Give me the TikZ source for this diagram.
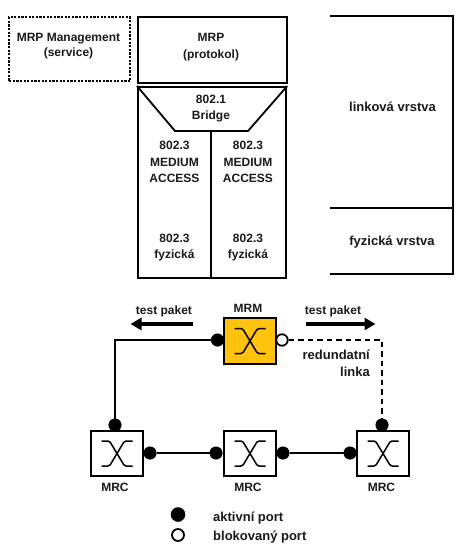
\documentclass[tikz,border=0pt]{standalone}
\usepackage{fontspec}
\setmainfont{Liberation Sans}
\usetikzlibrary{arrows.meta,calc}
\definecolor{ink}{HTML}{1A1A1E}
\definecolor{mrmfill}{HTML}{FFC20E}
\tikzset{
  x=1pt,y=-1pt,
  lbl/.style={font=\bfseries\fontsize{12}{16.5}\selectfont,text=ink,align=center,inner sep=0pt},
  lbltight/.style={lbl,font=\bfseries\fontsize{12}{15}\selectfont},
  lblbig/.style={lbl,font=\bfseries\fontsize{13}{17}\selectfont},
  frame/.style={draw=black,line width=2.3pt,fill=none},
  switchbox/.style={draw=black,line width=2.3pt,minimum width=52pt,minimum height=45pt,inner sep=0pt,fill=white},
  portfull/.style={circle,fill=black,draw=black,line width=0.5pt,minimum size=12.5pt,inner sep=0pt},
  portopen/.style={circle,fill=white,draw=black,line width=1.8pt,minimum size=11.5pt,inner sep=0pt},
  link/.style={line width=2pt,black},
  dashlink/.style={line width=2pt,black,dash pattern=on 5.5pt off 4pt},
  bigarrow/.style={line width=3.6pt,black,-{Triangle[length=11pt,width=12pt]}},
  xsym/.pic={
    \draw[line width=1.5pt,black,rounded corners=1.5pt] (-15.5,-12.5) -- (-7.5,-12.5) -- (7.5,12.5) -- (15.5,12.5);
    \draw[line width=1.5pt,black,rounded corners=1.5pt] (15.5,-12.5) -- (7.5,-12.5) -- (-7.5,12.5) -- (-15.5,12.5);
  }
}
\begin{document}
\begin{tikzpicture}
\useasboundingbox[fill=white] (0,0) rectangle (460,549);
% top stack
\node[draw=black,line width=2.3pt,dash pattern=on 2.2pt off 1.4pt,minimum width=121pt,minimum height=64pt,inner sep=0pt,anchor=north west] (mgmt) at (8,16) {};
\node[lbltight] (mgmtt) at (68.5,46.5) {MRP Management\\(service)};
\node[frame,draw,minimum width=149pt,minimum height=66pt,inner sep=0pt,anchor=north west] (mrp) at (137,16) {};
\node[lbl] (mrpt) at (211,47) {MRP\\(protokol)};
\node[frame,draw,minimum width=148pt,minimum height=191pt,inner sep=0pt,anchor=north west] (stack) at (137,86) {};
\coordinate (tl) at (175,131);
\coordinate (tr) at (248,131);
\coordinate (mid) at (211,131);
\draw[line width=1.8pt] (stack.north west) -- (tl) -- (tr) -- (stack.north east);
\draw[line width=2pt] (mid) -- (mid |- stack.south);
\node[lbl] (bridge) at (211,108.5) {802.1\\Bridge};
\node[lbl] (ma1) at (174.5,162) {802.3\\MEDIUM\\ACCESS};
\node[lbl] (ma2) at (248,162) {802.3\\MEDIUM\\ACCESS};
\node[lbl] (ph1) at (174.5,247.5) {802.3\\fyzická};
\node[lbl] (ph2) at (248,247.5) {802.3\\fyzická};
% layers
\coordinate (l1) at (330,16);
\coordinate (r1) at (453,16);
\coordinate (l2) at (330,208);
\coordinate (r2) at (453,208);
\coordinate (l3) at (330,274);
\coordinate (r3) at (453,274);
\draw[line width=2.3pt] (l1) -- (r1) -- (r3) -- (l3);
\draw[line width=2.3pt] (l2) -- (r2);
\node[lblbig] (link) at (392.5,107) {linková vrstva};
\node[lblbig] (phys) at (392,242.5) {fyzická vrstva};
% ring
\node[switchbox,fill=mrmfill,minimum height=46pt] (mrm) at (250,341) {};
\node[switchbox] (c1) at (117,453.5) {};
\node[switchbox] (c2) at (250,453.5) {};
\node[switchbox] (c3) at (383,453.5) {};
\pic at (mrm) {xsym};
\pic at (c1) {xsym};
\pic at (c2) {xsym};
\pic at (c3) {xsym};
\node[portfull] (pa) at (217.5,340) {};
\node[portopen] (pb) at (282,340) {};
\node[portfull] (p1t) at (115,425) {};
\node[portfull] (p3t) at (382,425) {};
\node[portfull] (p1r) at (150,453) {};
\node[portfull] (p2l) at (216,453) {};
\node[portfull] (p2r) at (283,453) {};
\node[portfull] (p3l) at (350,453) {};
\draw[link] (pa) -| (p1t);
\draw[dashlink] (pb) -| (p3t);
\draw[link] (p1r) -- (p2l);
\draw[link] (p2r) -- (p3l);
% labels
\node[lbl] (mrml) at (248,308.5) {MRM};
\node[lbl] (tpl) at (164,311.5) {test paket};
\node[lbl] (tpr) at (333,311.5) {test paket};
\coordinate (al1) at (193,324);
\coordinate (al2) at (130.5,324);
\coordinate (ar1) at (306,324);
\coordinate (ar2) at (375.5,324);
\draw[bigarrow] (al1) -- (al2);
\draw[bigarrow] (ar1) -- (ar2);
\node[lblbig,align=right,anchor=east] (red) at (370,363.5) {redundatní\\linka};
\node[lbl] (m1) at (115,487.5) {MRC};
\node[lbl] (m2) at (248,487.5) {MRC};
\node[lbl] (m3) at (381.5,487.5) {MRC};
% legend
\node[portfull,minimum size=14pt] (lga) at (178,514.5) {};
\node[portopen,minimum size=12pt] (lgb) at (178,535) {};
\node[lblbig,anchor=west] (lga-t) at (213,518) {aktivní port};
\node[lblbig,anchor=west] (lgb-t) at (213,537) {blokovaný port};
\end{tikzpicture}
\end{document}
